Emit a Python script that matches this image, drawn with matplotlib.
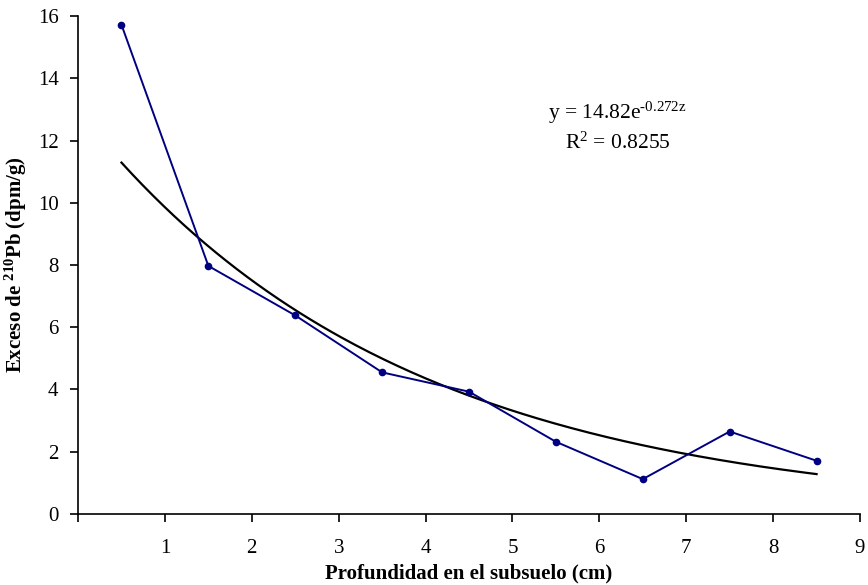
import numpy as np
import matplotlib.pyplot as plt

# Depth (cm, midpoint of each slice) and excess 210Pb (dpm/g)
depth = [0.5, 1.5, 2.5, 3.5, 4.5, 5.5, 6.5, 7.5, 8.5]
pb_excess = [15.72, 7.97, 6.38, 4.55, 3.93, 2.32, 1.12, 2.65, 1.71]

# exponential trendline, fitted against sample index z = 1..9
fit_a = 14.82
fit_b = -0.272
r2 = 0.8255

plt.rcParams['font.family'] = ['Liberation Serif', 'DejaVu Serif']
plt.rcParams['mathtext.fontset'] = 'custom'
plt.rcParams['mathtext.rm'] = 'Liberation Serif'
plt.rcParams['mathtext.it'] = 'Liberation Serif:italic'
plt.rcParams['mathtext.bf'] = 'Liberation Serif:bold'

fig = plt.figure(figsize=(8.68, 5.85), dpi=100)
ax = fig.add_axes([0.0899, 0.1214, 0.9009, 0.8512])

ax.plot(depth, pb_excess, color='#000080', lw=1.4, marker='o', ms=4.5, zorder=3)

z = np.linspace(1, len(depth), 200)
xs = np.linspace(depth[0], depth[-1], 200)
ax.plot(xs, fit_a * np.exp(fit_b * z), color='black', lw=1.6, zorder=2)

ax.text(0.69, 0.806, 'y = 14.82e$^{\\mathrm{\\text{-}0.272z}}$', transform=ax.transAxes,
        ha='center', va='center', fontsize=15.5)
ax.text(0.69, 0.745, 'R$^{\\mathrm{2}}$ = %.4f' % r2, transform=ax.transAxes,
        ha='center', va='center', fontsize=15.5)

ax.set_xlim(0, 9)
ax.set_ylim(0, 16)
ax.set_xticks(range(0, 10))
ax.set_xticklabels([''] + [str(i) for i in range(1, 10)])
ax.set_yticks(range(0, 17, 2))
ax.tick_params(labelsize=15, direction='out', length=6, width=1.2, pad=8)
ax.tick_params(axis='x', pad=12)

ax.spines['top'].set_visible(False)
ax.spines['right'].set_visible(False)
ax.spines['left'].set_linewidth(1.2)
ax.spines['bottom'].set_linewidth(1.2)

ax.set_xlabel('Profundidad en el subsuelo (cm)', fontsize=15, fontweight='bold', labelpad=4)
ax.set_ylabel('Exceso de $\\mathbf{^{210}}$Pb (dpm/g)', fontsize=15, fontweight='bold', labelpad=6)

fig.savefig('out.png', dpi=100)
